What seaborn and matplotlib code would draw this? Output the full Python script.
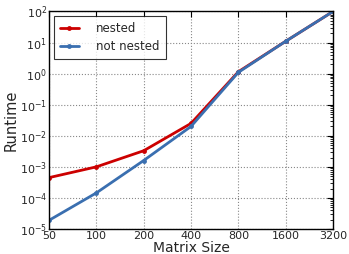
import matplotlib
matplotlib.use("Agg")
import matplotlib.pyplot as plt
import seaborn as sns
import pandas as pd
from matplotlib.ticker import FixedLocator, FixedFormatter, LogLocator, NullFormatter

sizes = [50, 100, 200, 400, 800, 1600, 3200]
nested = [4.5e-4, 1.0e-3, 3.3e-3, 2.5e-2, 1.15, 11.0, 100.0]
not_nested = [1.9e-5, 1.45e-4, 1.6e-3, 2.0e-2, 1.1, 11.0, 100.0]
series_names = ["nested", "not nested"]
colors = ["#cc0000", "#3a6fb0"]

df = pd.DataFrame({
    "size": sizes * 2,
    "runtime": nested + not_nested,
    "series": [series_names[0]] * len(sizes) + [series_names[1]] * len(sizes),
})

sns.set_style("white")
plt.rcParams["font.family"] = ["DejaVu Sans"]
fig = plt.figure(figsize=(3.49, 2.54), dpi=100)
ax = fig.add_axes([49/349, 1 - 229/254, (333-49)/349, (229-11.5)/254])

sns.lineplot(data=df, x="size", y="runtime", hue="series", palette=colors,
             marker="o", markersize=3.5, markeredgewidth=0, linewidth=2, ax=ax)

ax.set_xscale("log", base=2)
ax.set_yscale("log")
ax.set_xlim(50, 3200)
ax.set_ylim(1e-5, 1e2)
ax.xaxis.set_major_locator(FixedLocator(sizes))
ax.xaxis.set_major_formatter(FixedFormatter([str(s) for s in sizes]))
ax.xaxis.set_minor_locator(FixedLocator([]))
ax.yaxis.set_major_locator(LogLocator(base=10, numticks=20))
ax.yaxis.set_minor_locator(LogLocator(base=10, subs=range(2, 10), numticks=20))
ax.yaxis.set_minor_formatter(NullFormatter())

ax.grid(True, which="major", linestyle=":", color="#888888", linewidth=0.8)
ax.tick_params(which="both", direction="in", top=True, right=True, labelsize=8, color="black", pad=1.5)
ax.tick_params(which="major", length=4)
ax.tick_params(which="minor", length=2)
for s in ax.spines.values():
    s.set_color("black")
    s.set_linewidth(1)

ax.set_xlabel("Matrix Size", fontsize=10, labelpad=0)
ax.set_ylabel("Runtime", fontsize=10.5, labelpad=1)

leg = ax.legend(loc="upper left", fontsize=8.5, frameon=True, fancybox=False,
                edgecolor="black", borderaxespad=0.4, handlelength=1.6,
                handletextpad=1.5, labelspacing=0.4, borderpad=0.5)
leg.get_frame().set_linewidth(0.8)

fig.savefig("out.png", dpi=100)
